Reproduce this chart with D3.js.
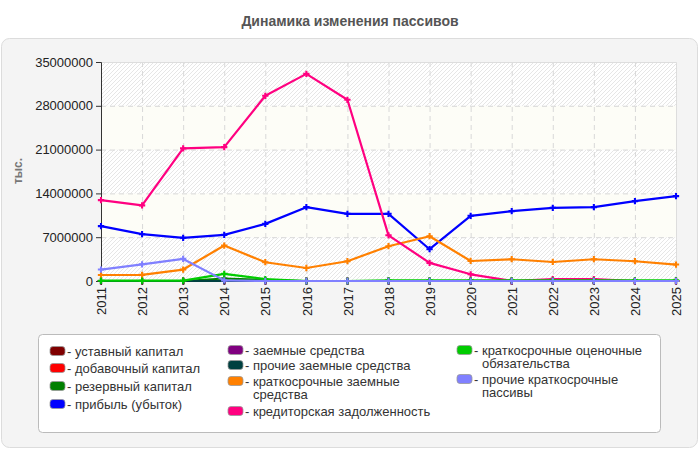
<!DOCTYPE html>
<html>
<head>
<meta charset="utf-8">
<script src="https://cdn.jsdelivr.net/npm/d3@7"></script>
<style>
  html, body { margin: 0; padding: 0; background: #fff; }
  svg { display: block; font-family: "Liberation Sans", Arial, sans-serif; }
</style>
</head>
<body>
<svg id="chart" width="700" height="450"></svg>
<script>
const years = [2011, 2012, 2013, 2014, 2015, 2016, 2017, 2018, 2019, 2020, 2021, 2022, 2023, 2024, 2025];
const yTicks = [0, 7000000, 14000000, 21000000, 28000000, 35000000];

const seriesNames = [
  "уставный капитал",
  "добавочный капитал",
  "резервный капитал",
  "прибыль (убыток)",
  "заемные средства",
  "прочие заемные средства",
  "краткосрочные заемные средства",
  "кредиторская задолженность",
  "краткосрочные оценочные обязательства",
  "прочие краткосрочные пассивы"
];
const seriesColors = ["#800000", "#ff0000", "#008000", "#0000ff", "#800080", "#004040", "#ff8000", "#ff0080", "#00cc00", "#8080ff"];

// values in thousands
const ustavny   = [0, 0, 0, 0, 0, 0, 0, 0, 0, 0, 0, 0, 0, 0, 0];
const dobavochny = [0, 0, 0, 0, 0, 0, 0, 0, 0, 0, 0, 0, 0, 0, 0];
const rezervny  = [0, 0, 0, 400000, 150000, 0, 0, 0, 0, 0, 0, 0, 0, 0, 0];
const pribyl    = [8770000, 7480000, 6900000, 7370000, 9130000, 11800000, 10740000, 10740000, 5080000, 10420000, 11170000, 11700000, 11800000, 12770000, 13570000];
const zaemnye   = [0, 0, 0, 0, 0, 0, 0, 0, 0, 0, 0, 0, 0, 0, 0];
const prochieZaemnye = [0, 0, 0, 0, 0, 0, 0, 0, 0, 0, 0, 0, 0, 0, 0];
const kratkoZaemnye = [960000, 980000, 1830000, 5670000, 3000000, 2080000, 3160000, 5560000, 7160000, 3200000, 3480000, 3040000, 3480000, 3160000, 2630000];
const kreditorka = [12930000, 12080000, 21200000, 21400000, 29600000, 33100000, 28960000, 7300000, 2900000, 1070000, 0, 300000, 300000, 0, 0];
const ocenochnye = [50000, 50000, 50000, 1150000, 300000, 0, 0, 100000, 100000, 100000, 100000, 100000, 100000, 100000, 100000];
const prochieKratko = [1830000, 2670000, 3530000, 100000, 0, 0, 0, 0, 0, 0, 0, 0, 0, 0, 0];

const seriesValues = [ustavny, dobavochny, rezervny, pribyl, zaemnye, prochieZaemnye, kratkoZaemnye, kreditorka, ocenochnye, prochieKratko];

const svg = d3.select("#chart");

// panel
svg.append("rect")
  .attr("x", 1.5).attr("y", 38.5)
  .attr("width", 696).attr("height", 409)
  .attr("rx", 8).attr("ry", 8)
  .attr("fill", "#f4f4f4")
  .attr("stroke", "#dcdcdc");

svg.append("text")
  .attr("x", 350).attr("y", 26)
  .attr("text-anchor", "middle")
  .attr("font-size", 14).attr("font-weight", "bold")
  .attr("fill", "#555")
  .text("Динамика изменения пассивов");

const plot = { left: 101, right: 676, top: 62, bottom: 281 };

const x = d3.scaleLinear().domain([years[0], years[years.length - 1]]).range([plot.left, plot.right]);
const y = d3.scaleLinear().domain([0, 35000000]).range([plot.bottom, plot.top]);

// background bands
const defs = svg.append("defs");
const pat = defs.append("pattern")
  .attr("id", "hatch")
  .attr("patternUnits", "userSpaceOnUse")
  .attr("width", 4).attr("height", 4);
pat.append("rect").attr("width", 4).attr("height", 4).attr("fill", "#ffffff");
pat.append("path")
  .attr("d", "M-1,1 l2,-2 M0,4 l4,-4 M3,5 l2,-2")
  .attr("stroke", "#e6e6e6").attr("stroke-width", 1);

const bands = d3.pairs(yTicks);
svg.append("g").selectAll("rect")
  .data(bands)
  .join("rect")
  .attr("x", plot.left)
  .attr("width", plot.right - plot.left)
  .attr("y", d => y(d[1]))
  .attr("height", d => y(d[0]) - y(d[1]))
  .attr("fill", (d, i) => i % 2 === 0 ? "url(#hatch)" : "#fdfdf7");

// grid
const grid = svg.append("g").attr("stroke", "#d8d8d8").attr("stroke-dasharray", "5,4");
grid.selectAll("line.v")
  .data(years.slice(1, -1))
  .join("line")
  .attr("x1", d => x(d) + 0.5).attr("x2", d => x(d) + 0.5)
  .attr("y1", plot.top).attr("y2", plot.bottom);
grid.selectAll("line.h")
  .data(yTicks.slice(1, -1))
  .join("line")
  .attr("y1", d => y(d) + 0.5).attr("y2", d => y(d) + 0.5)
  .attr("x1", plot.left).attr("x2", plot.right);

// plot frame top/right
svg.append("path")
  .attr("d", `M${plot.left},${plot.top + 0.5}H${plot.right + 0.5}V${plot.bottom}`)
  .attr("fill", "none").attr("stroke", "#dddddd");

// axes
const yAxis = svg.append("g")
  .attr("transform", `translate(${plot.left},0)`)
  .call(d3.axisLeft(y).tickValues(yTicks).tickSize(5).tickPadding(3).tickFormat(d3.format("d")));
yAxis.selectAll("text").attr("font-size", 13).attr("fill", "#222").attr("font-family", "Liberation Sans, Arial, sans-serif");
yAxis.select(".domain").attr("stroke", "#333");
yAxis.selectAll(".tick line").attr("stroke", "#333");

const xAxis = svg.append("g")
  .attr("transform", `translate(0,${plot.bottom})`)
  .call(d3.axisBottom(x).tickValues(years).tickSize(4).tickFormat(d3.format("d")));
xAxis.select(".domain").attr("stroke", "#333");
xAxis.selectAll(".tick line").attr("stroke", "#333");
xAxis.selectAll("text")
  .attr("font-size", 13).attr("fill", "#222").attr("font-family", "Liberation Sans, Arial, sans-serif")
  .attr("transform", "rotate(-90)")
  .attr("text-anchor", "end")
  .attr("x", -6).attr("y", 0).attr("dy", "0.36em");

svg.append("text")
  .attr("transform", "translate(22,171) rotate(-90)")
  .attr("text-anchor", "middle")
  .attr("font-size", 12).attr("font-weight", "bold")
  .attr("fill", "#777")
  .text("тыс.");

// lines
const line = d3.line().x((d, i) => x(years[i])).y(d => y(d));
const series = svg.append("g").selectAll("g")
  .data(seriesValues)
  .join("g");
series.append("path")
  .attr("d", d => line(d))
  .attr("fill", "none")
  .attr("stroke", (d, i) => seriesColors[i])
  .attr("stroke-width", 2.2)
  .attr("stroke-linejoin", "round");
series.each(function(vals, si) {
  d3.select(this).selectAll("path.m")
    .data(vals)
    .join("path")
    .attr("class", "m")
    .attr("transform", (d, i) => `translate(${x(years[i])},${y(d)})`)
    .attr("d", d3.symbol(d3.symbolCross, 22))
    .attr("fill", seriesColors[si]);
});

// legend
svg.append("rect")
  .attr("x", 38.5).attr("y", 334.5)
  .attr("width", 622).attr("height", 98)
  .attr("rx", 4)
  .attr("fill", "#ffffff")
  .attr("stroke", "#bbbbbb");

const legendItems = [
  { col: 0, y: 351, lines: ["- уставный капитал"] },
  { col: 0, y: 368, lines: ["- добавочный капитал"] },
  { col: 0, y: 386, lines: ["- резервный капитал"] },
  { col: 0, y: 404, lines: ["- прибыль (убыток)"] },
  { col: 1, y: 350, lines: ["- заемные средства"] },
  { col: 1, y: 365, lines: ["- прочие заемные средства"] },
  { col: 1, y: 381, lines: ["- краткосрочные заемные", "средства"] },
  { col: 1, y: 411, lines: ["- кредиторская задолженность"] },
  { col: 2, y: 350, lines: ["- краткосрочные оценочные", "обязательства"] },
  { col: 2, y: 379, lines: ["- прочие краткосрочные", "пассивы"] }
];
const colX = [50, 228, 457];

const leg = svg.append("g").selectAll("g")
  .data(legendItems)
  .join("g")
  .attr("transform", d => `translate(${colX[d.col]},${d.y})`);
leg.append("rect")
  .attr("x", 0).attr("y", -4.5)
  .attr("width", 15).attr("height", 9)
  .attr("rx", 3)
  .attr("fill", (d, i) => seriesColors[i])
  .attr("stroke", "#999").attr("stroke-width", 0.8);
leg.append("text")
  .attr("x", 17).attr("y", 0)
  .attr("font-size", 13).attr("fill", "#333")
  .selectAll("tspan")
  .data(d => d.lines)
  .join("tspan")
  .attr("x", (d, i) => i === 0 ? 17 : 25)
  .attr("dy", (d, i) => i === 0 ? "0.35em" : "1.05em")
  .text(d => d);
</script>
</body>
</html>
